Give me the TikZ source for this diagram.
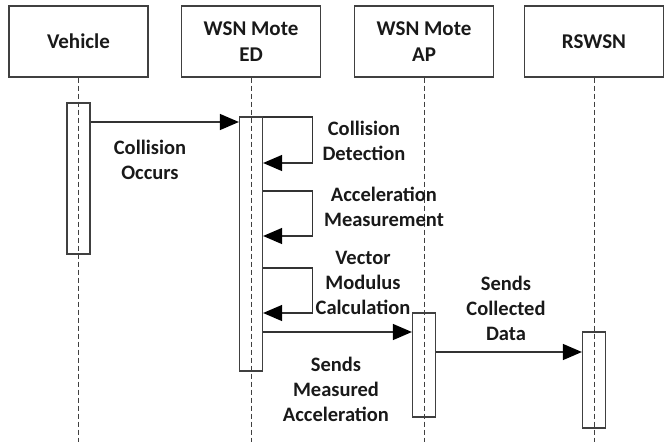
\documentclass[tikz,border=0pt]{standalone}
\usepackage{fontspec}
\setmainfont{Carlito}
\usetikzlibrary{arrows.meta}
\begin{document}
\begin{tikzpicture}[x=1pt,y=-1pt,
  actor/.style={draw=black!75, line width=1.2pt, rectangle, minimum width=139pt, minimum height=71pt, inner sep=0pt, align=center, text=black!90, font=\bfseries\fontsize{21}{26}\selectfont},
  act/.style={draw=black!75, line width=1.2pt, rectangle, minimum width=23pt, inner sep=0pt},
  life/.style={draw=black!75, line width=1pt, dash pattern=on 5pt off 3pt},
  msg/.style={draw=black!80, line width=1.2pt, -{Triangle[length=19pt,width=16pt,fill=black,color=black]}},
  lbl/.style={align=center, font=\bfseries\fontsize{20.5}{25}\selectfont, inner sep=0pt, text=black!90}]
\useasboundingbox (0,0) rectangle (664,442);
% actors
\node[actor] (veh) at (78.5,41.5) {Vehicle};
\node[actor] (ed) at (251,41.5) {WSN Mote\\ED};
\node[actor] (ap) at (424,41.5) {WSN Mote\\AP};
\node[actor] (rs) at (594,41.5) {RSWSN};
% lifelines
\draw[life] (veh.south) -- (veh.south |- 0,442);
\draw[life] (ed.south) -- (ed.south |- 0,442);
\draw[life] (ap.south) -- (ap.south |- 0,442);
\draw[life] (rs.south) -- (rs.south |- 0,442);
% activations
\node[act, minimum height=151pt] (vact) at (78.5,178.5) {};
\node[act, minimum height=254pt] (edact) at (251,244) {};
\node[act, minimum height=104pt] (apact) at (424,365) {};
\node[act, minimum height=96pt] (rsact) at (594,380) {};
% messages
\draw[msg] (vact.east |- 0,122) -- (edact.west |- 0,122);
\draw[msg] (edact.east |- 0,117) -- ++(49,0) -- ++(0,46) -- (edact.east |- 0,163);
\draw[msg] (edact.east |- 0,191) -- ++(49,0) -- ++(0,45) -- (edact.east |- 0,236);
\draw[msg] (edact.east |- 0,268) -- ++(49,0) -- ++(0,45) -- (edact.east |- 0,313);
\draw[msg] (edact.east |- 0,332) -- (apact.west |- 0,332);
\draw[msg] (apact.east |- 0,352) -- (rsact.west |- 0,352);
% labels
\node[lbl] (l1) at (150,160) {Collision\\Occurs};
\node[lbl] (l2) at (364,140.5) {Collision\\Detection};
\node[lbl] (l3) at (384,206.5) {Acceleration\\Measurement};
\node[lbl] (l4) at (363,282.5) {Vector\\Modulus\\Calculation};
\node[lbl] (l5) at (336,389) {Sends\\Measured\\Acceleration};
\node[lbl] (l6) at (506,308.5) {Sends\\Collected\\Data};
\end{tikzpicture}
\end{document}
